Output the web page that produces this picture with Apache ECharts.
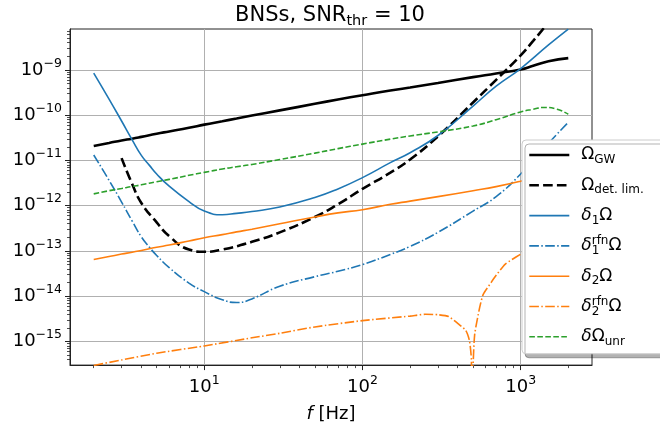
<!DOCTYPE html>
<html>
<head>
<meta charset="utf-8">
<script src="https://cdn.jsdelivr.net/npm/echarts@6/dist/echarts.min.js"></script>
<style>
  html, body { margin: 0; padding: 0; background: #fff; }
  #chart { width: 660px; height: 428px; }
</style>
</head>
<body>
<div id="chart"></div>
<script>
// values: frequency f [Hz] and log10(Omega)
const fGW = [2, 2.5, 3, 3.5, 4, 5, 6, 8, 10, 13, 16, 20, 30, 50, 70, 100, 150, 200, 300, 500, 700, 1000, 1200, 1500, 2000];
const gwExp = [-10.68, -10.615, -10.56, -10.52, -10.48, -10.41, -10.36, -10.28, -10.21, -10.135, -10.075, -10.01, -9.895, -9.75, -9.655, -9.56, -9.455, -9.39, -9.29, -9.16, -9.08, -8.99, -8.91, -8.81, -8.74];

const fDet = [3, 3.5, 4, 5, 6, 8, 10, 13, 20, 30, 50, 70, 100, 150, 200, 300, 500, 700, 1000, 1200, 1400, 1600];
const detExp = [-10.95, -11.52, -11.94, -12.37, -12.675, -12.97, -13.02, -12.97, -12.8, -12.59, -12.25, -11.97, -11.63, -11.27, -10.98, -10.47, -9.72, -9.22, -8.68, -8.36, -8.08, -7.83];

const fD1 = [2, 2.5, 3, 3.5, 4, 4.5, 5, 6, 8, 10, 13, 16, 20, 30, 50, 70, 100, 150, 200, 300, 500, 700, 1000, 1500, 2000];
const d1Exp = [-9.07, -9.645, -10.13, -10.545, -10.89, -11.11, -11.3, -11.57, -11.91, -12.12, -12.2, -12.17, -12.13, -12.03, -11.82, -11.63, -11.38, -11.05, -10.83, -10.45, -9.8, -9.36, -8.97, -8.45, -8.1];

const fD1r = [2, 2.5, 3, 3.5, 4, 4.5, 5, 6, 8, 10, 13, 16, 20, 30, 50, 70, 100, 150, 200, 300, 500, 700, 1000, 1500, 2000];
const d1rExp = [-10.88, -11.44, -11.92, -12.34, -12.69, -12.92, -13.1, -13.37, -13.71, -13.9, -14.08, -14.14, -14.06, -13.78, -13.57, -13.45, -13.3, -13.08, -12.9, -12.59, -12.12, -11.8, -11.3, -10.62, -10.16];

const fD2 = [2, 2.5, 3, 3.5, 4, 5, 6, 8, 10, 13, 16, 20, 30, 50, 70, 100, 150, 200, 300, 500, 700, 1000, 1500, 2000];
const d2Exp = [-13.19, -13.125, -13.07, -13.03, -12.99, -12.92, -12.87, -12.78, -12.71, -12.64, -12.58, -12.52, -12.4, -12.25, -12.16, -12.09, -11.97, -11.9, -11.8, -11.67, -11.58, -11.46, -11.3, -11.22];

const fD2r = [2, 3, 5, 10, 20, 30, 50, 100, 200, 250, 300, 350, 400, 450, 475, 488, 494, 500, 512, 550, 580, 650, 700, 800, 1000, 1500, 2000];
const d2rExp = [-15.53, -15.41, -15.26, -15.1, -14.92, -14.82, -14.68, -14.54, -14.44, -14.4, -14.41, -14.45, -14.6, -14.76, -14.99, -15.4, -17, -15.6, -14.85, -14.26, -13.96, -13.7, -13.54, -13.29, -13.07, -12.65, -12.4];

const fUnr = [2, 2.5, 3, 3.5, 4, 5, 6, 8, 10, 13, 16, 20, 30, 50, 70, 100, 150, 200, 300, 500, 700, 1000, 1200, 1400, 1700, 2000];
const unrExp = [-11.74, -11.67, -11.62, -11.575, -11.54, -11.47, -11.42, -11.33, -11.265, -11.19, -11.14, -11.09, -10.98, -10.84, -10.74, -10.64, -10.53, -10.46, -10.37, -10.24, -10.1, -9.93, -9.87, -9.83, -9.87, -9.98];

// axes
const xMin = 1.416, xMax = 2825;
const yMin = 3.0e-16, yMax = 8.0e-9;
const xMajor = [10, 100, 1000];
const yMajor = [1e-15, 1e-14, 1e-13, 1e-12, 1e-11, 1e-10, 1e-9];
const minorMant = [2, 3, 4, 5, 6, 7, 8, 9];
const xDecades = [1, 10, 100, 1000];
const yDecades = [1e-16, 1e-15, 1e-14, 1e-13, 1e-12, 1e-11, 1e-10, 1e-9];

const font = 'DejaVu Sans';

function minorTicks(decades, lo, hi) {
  const out = [];
  decades.forEach(d => minorMant.forEach(m => {
    const v = m * d;
    if (v > lo && v < hi) out.push(v);
  }));
  return out;
}

function pts(f, e) {
  return f.map((x, i) => [x, Math.pow(10, e[i])]);
}

function powLabel(v) {
  const e = Math.round(Math.log10(v));
  return '10{sup|' + (e < 0 ? '\u2212' + (-e) : e) + '}';
}

const labelRich = {
  sup: { fontFamily: font, fontSize: 12.5, lineHeight: 12, verticalAlign: 'top', color: '#000' }
};

const legendText = {
  gw: '\u03a9{sub|GW}',
  det: '\u03a9{sub|det. lim.}',
  d1: '{d|\u03b4}{sub|1}\u03a9',
  d1r: '{d|\u03b4}{subz|1}{sup|rfn}\u03a9',
  d2: '{d|\u03b4}{sub|2}\u03a9',
  d2r: '{d|\u03b4}{subz|2}{sup|rfn}\u03a9',
  unr: '{d|\u03b4}\u03a9{sub|unr}'
};

const blue = '#1f77b4', orange = '#ff7f0e', green = '#2ca02c';
const dashDot = [9.6, 2.4, 1.5, 2.4];

function line(name, data, color, width, type) {
  return {
    name: name,
    type: 'line',
    data: data,
    symbol: 'none',
    smooth: 0.5,
    itemStyle: { color: color },
    lineStyle: { color: color, width: width, type: type || 'solid' }
  };
}

const myChart = echarts.init(document.getElementById('chart'));

const option = {
  animation: false,
  title: {
    text: 'BNSs, SNR{sub|thr} = 10',
    left: 'center',
    top: -2,
    textStyle: {
      fontFamily: font, fontSize: 21, fontWeight: 'normal', color: '#000', lineHeight: 26,
      rich: { sub: { fontFamily: font, fontSize: 14.5, lineHeight: 18, verticalAlign: 'bottom', color: '#000' } }
    }
  },
  grid: {
    left: 70, right: 68, top: 29, bottom: 62,
    show: true, borderColor: '#222', borderWidth: 1, backgroundColor: 'transparent'
  },
  legend: {
    orient: 'vertical',
    left: 522,
    top: 140,
    padding: [4, 40, 6, 6],
    itemGap: 8.3,
    itemWidth: 40,
    itemHeight: 14,
    backgroundColor: '#fff',
    borderColor: '#cccccc',
    borderWidth: 1,
    borderRadius: 4,
    shadowColor: 'rgba(0,0,0,0.3)',
    shadowOffsetX: 3,
    shadowOffsetY: 4,
    shadowBlur: 0,
    // hide the default circle marker, keep only the line sample
    itemStyle: { color: 'rgba(0,0,0,0)', borderWidth: 0, opacity: 0 },
    lineStyle: { width: 'inherit', type: 'inherit' },
    data: ['gw', 'det', 'd1', 'd1r', 'd2', 'd2r', 'unr'],
    formatter: name => legendText[name],
    textStyle: {
      fontFamily: font, fontSize: 17, color: '#000', lineHeight: 22, padding: [0, 0, 0, 7],
      rich: {
        sub: { fontFamily: font, fontSize: 12, lineHeight: 15, verticalAlign: 'bottom', color: '#000' },
        subz: { fontFamily: font, fontSize: 12, lineHeight: 8, verticalAlign: 'bottom', width: 0, color: '#000' },
        sup: { fontFamily: font, fontSize: 12, lineHeight: 12, verticalAlign: 'top', color: '#000' },
        d: { fontFamily: font, fontSize: 17, lineHeight: 22, fontStyle: 'italic', color: '#000' }
      }
    }
  },
  xAxis: [{
    type: 'log',
    logBase: 10,
    min: xMin,
    max: xMax,
    name: '{i|f} [Hz]',
    nameLocation: 'middle',
    nameGap: 38,
    nameTextStyle: {
      fontFamily: font, fontSize: 18, color: '#000',
      rich: { i: { fontFamily: font, fontSize: 18, fontStyle: 'italic', color: '#000' } }
    },
    axisLine: { show: true, lineStyle: { color: '#222', width: 1 } },
    axisTick: { show: true, length: 5, customValues: xMajor, lineStyle: { color: '#222', width: 1 } },
    axisLabel: {
      customValues: xMajor, formatter: powLabel, margin: 9,
      fontFamily: font, fontSize: 18, color: '#000', lineHeight: 26, rich: labelRich
    },
    splitLine: { show: true, lineStyle: { color: '#b0b0b0', width: 1 } }
  }, {
    type: 'log',
    logBase: 10,
    min: xMin,
    max: xMax,
    position: 'bottom',
    axisLine: { show: false },
    axisLabel: { show: false },
    splitLine: { show: false },
    axisTick: { show: true, length: 3, customValues: minorTicks(xDecades, xMin, xMax), lineStyle: { color: '#222', width: 0.8 } }
  }],
  yAxis: [{
    type: 'log',
    logBase: 10,
    min: yMin,
    max: yMax,
    axisLine: { show: true, lineStyle: { color: '#222', width: 1 } },
    axisTick: { show: true, length: 5, customValues: yMajor, lineStyle: { color: '#222', width: 1 } },
    axisLabel: {
      customValues: yMajor, formatter: powLabel, margin: 8,
      fontFamily: font, fontSize: 18, color: '#000', lineHeight: 26, rich: labelRich
    },
    splitLine: { show: true, lineStyle: { color: '#b0b0b0', width: 1 } }
  }, {
    type: 'log',
    logBase: 10,
    min: yMin,
    max: yMax,
    position: 'left',
    axisLine: { show: false },
    axisLabel: { show: false },
    splitLine: { show: false },
    axisTick: { show: true, length: 3, customValues: minorTicks(yDecades, yMin, yMax), lineStyle: { color: '#222', width: 0.8 } }
  }],
  series: [
    line('gw', pts(fGW, gwExp), '#000', 2.6),
    line('det', pts(fDet, detExp), '#000', 2.6, [9.6, 4.2]),
    line('d1', pts(fD1, d1Exp), blue, 1.6),
    line('d1r', pts(fD1r, d1rExp), blue, 1.6, dashDot),
    line('d2', pts(fD2, d2Exp), orange, 1.6),
    Object.assign(line('d2r', pts(fD2r, d2rExp), orange, 1.6, dashDot), { smooth: 0.2 }),
    line('unr', pts(fUnr, unrExp), green, 1.6, [5.6, 2.4])
  ]
};

myChart.setOption(option);
</script>
</body>
</html>
